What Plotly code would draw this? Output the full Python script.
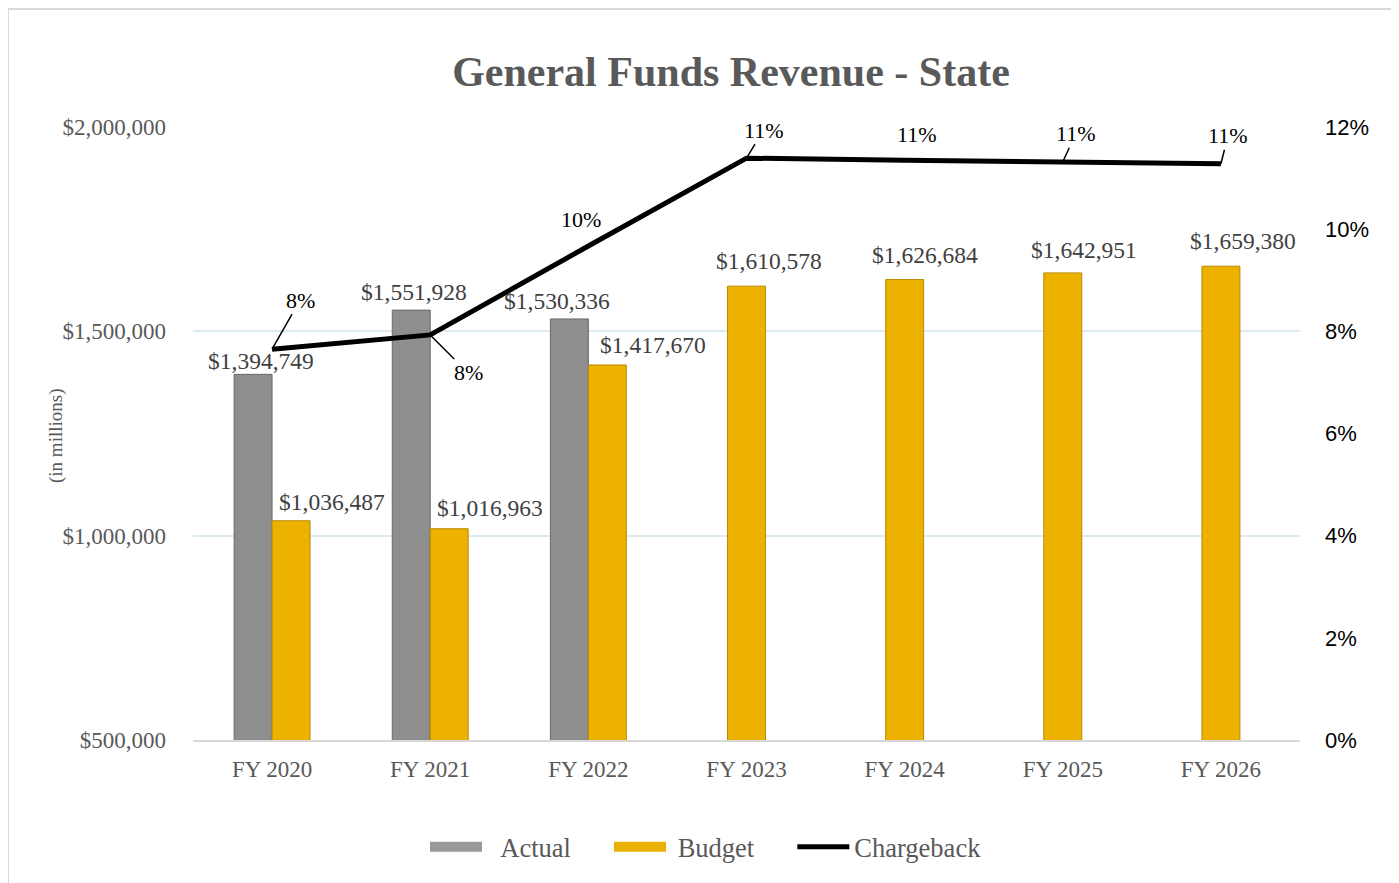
import plotly.graph_objects as go

categories = ["FY 2020", "FY 2021", "FY 2022", "FY 2023", "FY 2024", "FY 2025", "FY 2026"]
actual = [1394749, 1551928, 1530336, None, None, None, None]
budget = [1036487, 1016963, 1417670, 1610578, 1626684, 1642951, 1659380]
chargeback = [0.0765, 0.0793, 0.0967, 0.1139, 0.1135, 0.1132, 0.1128]
chargeback_labels = ["8%", "8%", "10%", "11%", "11%", "11%", "11%"]

SERIF = "Liberation Serif, Times New Roman, serif"
SANS = "Liberation Sans, Arial, sans-serif"
GRAY_TXT = "#595959"
GRAY_BAR = "#8e8e8e"
GOLD_BAR = "#EDB200"
NB = "\u00a0"

# layout geometry (page body adds an 8px margin)
L, R, T, B = 185, 107, 119, 151
FW, FH = 1399, 883
PW, PH = FW - L - R, FH - T - B

W = 0.24
act_offset = [-W if a is not None else 0 for a in actual]
bud_offset = [0 if a is not None else -W / 2 for a in actual]

fig = go.Figure()
fig.add_trace(go.Bar(
    x=categories, y=actual, name="Actual", width=W, offset=act_offset, showlegend=False,
    marker=dict(color=GRAY_BAR, line=dict(color="#6a6a6a", width=1)),
))
fig.add_trace(go.Bar(
    x=categories, y=budget, name="Budget", width=W, offset=bud_offset, showlegend=False,
    marker=dict(color=GOLD_BAR, line=dict(color="#B88A00", width=1)),
))
fig.add_trace(go.Scatter(
    x=categories, y=chargeback, name="Chargeback", yaxis="y2", mode="lines",
    line=dict(color="black", width=5), showlegend=False,
))
# legend entries (wide swatches like the original)
fig.add_trace(go.Scatter(x=[None], y=[None], mode="lines", name=NB * 2 + "Actual" + NB * 5,
                         line=dict(color="#9a9a9a", width=14)))
fig.add_trace(go.Scatter(x=[None], y=[None], mode="lines", name=NB + "Budget" + NB * 5,
                         line=dict(color="#E8B000", width=14)))
fig.add_trace(go.Scatter(x=[None], y=[None], mode="lines", name="Chargeback",
                         line=dict(color="black", width=5)))

label_font = dict(family=SERIF, size=23.5, color="#404040")
ann = []
act_shift = [(-11, 13), (-16, 18), (-31, 18)]
for i, (c, v) in enumerate(zip(categories, actual)):
    if v is not None:
        xs, ys = act_shift[i]
        ann.append(dict(x=c, y=v, xref="x", yref="y", text=f"${v:,.0f}", showarrow=False,
                        xshift=xs, yshift=ys, font=label_font))
bud_shift = [(60, 19), (60, 21), (65, 20), (22, 25), (20, 25), (21, 23), (22, 25)]
for (c, v), (xs, ys) in zip(zip(categories, budget), bud_shift):
    ann.append(dict(x=c, y=v, xref="x", yref="y", text=f"${v:,.0f}", showarrow=False,
                    xshift=xs, yshift=ys, font=label_font))

pct_font = dict(family=SERIF, size=22, color="black")
# (arrow?, dx, dy)
pct_pos = [(True, 28, -49), (True, 38, 38), (False, -7, 27), (True, 17, -28),
           (False, 12, 26), (True, 13, -28), (True, 7, -28)]
for (c, v, t), (arrow, dx, dy) in zip(zip(categories, chargeback, chargeback_labels), pct_pos):
    if arrow:
        ann.append(dict(x=c, y=v, xref="x", yref="y2", text=t, showarrow=True, arrowhead=0,
                        arrowwidth=1.5, arrowcolor="black", ax=dx, ay=dy, standoff=0,
                        font=pct_font))
    else:
        ann.append(dict(x=c, y=v, xref="x", yref="y2", text=t, showarrow=False,
                        xshift=dx, yshift=dy, font=pct_font))

ann.append(dict(x=-(L - 48) / PW, y=(FH - B - 428) / PH, xref="paper", yref="paper",
                text="(in millions)", showarrow=False, textangle=-90,
                xanchor="center", yanchor="middle",
                font=dict(family=SERIF, size=19, color=GRAY_TXT)))

fig.update_layout(
    width=FW, height=FH,
    paper_bgcolor="white", plot_bgcolor="white",
    margin=dict(l=L, r=R, t=T, b=B),
    title=dict(text="<b>General Funds Revenue - State</b>", x=(731 - 8) / FW, xanchor="center",
               y=1 - 63 / FH, yanchor="middle",
               font=dict(family=SERIF, size=42, color=GRAY_TXT)),
    barmode="overlay",
    showlegend=True,
    legend=dict(orientation="h", x=(431 - 8 - L - 6) / PW, xanchor="left",
                y=-(839 - (FH - B)) / PH, yanchor="middle",
                font=dict(family=SERIF, size=26.5, color=GRAY_TXT), itemwidth=52, traceorder="normal"),
    xaxis=dict(type="category", showgrid=False, showline=True, linecolor="#d9d9d9", linewidth=2,
               ticks="", tickfont=dict(family=SERIF, size=23, color=GRAY_TXT), ticklabelstandoff=7),
    yaxis=dict(range=[500000, 2000000], dtick=500000, tickformat="$,.0f", showgrid=True,
               gridcolor="#dcebf2", gridwidth=2, zeroline=False, showline=False, ticks="",
               tickfont=dict(family=SERIF, size=23, color=GRAY_TXT), ticklabelstandoff=26),
    yaxis2=dict(range=[0, 0.12], dtick=0.02, tickformat=".0%", overlaying="y", side="right",
                showgrid=False, zeroline=False, showline=False, ticks="",
                tickfont=dict(family=SANS, size=22, color="black"), ticklabelstandoff=24),
    annotations=ann,
    shapes=[dict(type="rect", xref="paper", yref="paper",
                 x0=-L / PW, x1=(1388 - L) / PW, y0=-(B + 20) / PH, y1=1 + (T - 1) / PH,
                 line=dict(color="#d9d9d9", width=2), fillcolor="rgba(0,0,0,0)", layer="below")],
)

fig.write_html("out.html")
